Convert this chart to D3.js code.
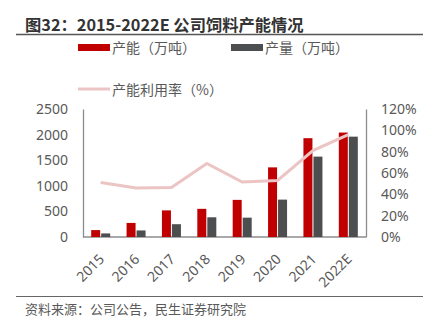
<!DOCTYPE html>
<html>
<head>
<meta charset="utf-8">
<script src="https://cdn.jsdelivr.net/npm/d3@7"></script>
<style>
  body { margin: 0; background: #fff; }
  svg { font-family: "Noto Sans CJK SC", "Noto Sans", sans-serif; }
</style>
</head>
<body>
<div id="vizcont"></div>
<script>
// data
var years = ["2015", "2016", "2017", "2018", "2019", "2020", "2021", "2022E"];
var capacity = [135, 275, 520, 550, 725, 1360, 1930, 2040];   // 产能（万吨）
var output = [70, 128, 250, 385, 378, 730, 1570, 1960];       // 产量（万吨）
var utilRate = [51, 46, 46.5, 69, 51.5, 53, 81, 96];           // 产能利用率（%）
var leftTicks = [0, 500, 1000, 1500, 2000, 2500];
var rightTicks = [0, 20, 40, 60, 80, 100, 120];

var W = 430, H = 323;
var margin = {top: 109, right: 64, bottom: 86, left: 83};
var width = W - margin.left - margin.right;
var height = H - margin.top - margin.bottom;

var svg = d3.select("#vizcont")
    .append("svg")
    .attr("width", W)
    .attr("height", H);

// title
svg.append("text")
    .attr("x", 25).attr("y", 31)
    .style("font-size", "16.3px")
    .style("font-weight", "bold")
    .attr("fill", "#333")
    .text("图32：2015-2022E 公司饲料产能情况");
svg.append("line")
    .attr("x1", 16).attr("x2", 423)
    .attr("y1", 34.5).attr("y2", 34.5)
    .attr("stroke", "#555").attr("stroke-width", 1.5);

// legend
var lg = svg.append("g").style("font-size", "14px");
lg.append("rect").attr("x", 78).attr("y", 44).attr("width", 32).attr("height", 7).attr("fill", "#C00000");
lg.append("text").attr("x", 112).attr("y", 52.5).attr("fill", "#595959").text("产能（万吨）");
lg.append("rect").attr("x", 231).attr("y", 44).attr("width", 32).attr("height", 7).attr("fill", "#4D4E50");
lg.append("text").attr("x", 265).attr("y", 52.5).attr("fill", "#595959").text("产量（万吨）");
lg.append("line").attr("x1", 78).attr("x2", 110).attr("y1", 89).attr("y2", 89)
    .attr("stroke", "#EDC4C4").attr("stroke-width", 3);
lg.append("text").attr("x", 112).attr("y", 94.5).attr("fill", "#595959").text("产能利用率（%）");

var g = svg.append("g")
    .attr("transform", "translate(" + margin.left + "," + margin.top + ")");

var x = d3.scaleBand().domain(years).range([0, width]);
var y = d3.scaleLinear().domain([0, 2500]).range([height, 0]);
var y2 = d3.scaleLinear().domain([0, 120]).range([height, 0]);

// axes
var axL = g.append("g")
    .call(d3.axisLeft(y).tickValues(leftTicks).tickSize(0).tickPadding(15)
        .tickFormat(d3.format("d")));
var axR = g.append("g")
    .attr("transform", "translate(" + width + ",0)")
    .call(d3.axisRight(y2).tickValues(rightTicks).tickSize(0).tickPadding(15)
        .tickFormat(function(d) { return d + "%"; }));
var axB = g.append("g")
    .attr("transform", "translate(0," + height + ")")
    .call(d3.axisBottom(x).tickSize(0));

[axL, axR, axB].forEach(function(a) {
    a.select(".domain").attr("stroke", "#8c8c8c").attr("stroke-width", 1.3);
    a.selectAll("text")
        .style("font-size", "14px")
        .style("font-family", "'Noto Sans', sans-serif")
        .attr("fill", "#595959");
});
axB.select(".domain").attr("d", "M0,0H" + width);
axB.selectAll("text")
    .attr("text-anchor", "end")
    .attr("x", 0).attr("y", 0)
    .attr("dy", "0.35em")
    .attr("transform", "translate(1,19.5) rotate(-45)");

var bw = 9;
g.selectAll(".cap")
    .data(years)
    .enter().append("rect")
    .attr("class", "cap")
    .attr("x", function(d) { return x(d) + x.bandwidth() / 2 - bw - 0.5; })
    .attr("y", function(d, i) { return y(capacity[i]); })
    .attr("width", bw)
    .attr("height", function(d, i) { return height - y(capacity[i]); })
    .attr("fill", "#C00000");

g.selectAll(".out")
    .data(years)
    .enter().append("rect")
    .attr("class", "out")
    .attr("x", function(d) { return x(d) + x.bandwidth() / 2 + 0.5; })
    .attr("y", function(d, i) { return y(output[i]); })
    .attr("width", bw)
    .attr("height", function(d, i) { return height - y(output[i]); })
    .attr("fill", "#4D4E50");

var line = d3.line()
    .x(function(d, i) { return x(years[i]) + x.bandwidth() / 2; })
    .y(function(d) { return y2(d); });

g.append("path")
    .datum(utilRate)
    .attr("d", line)
    .attr("fill", "none")
    .attr("stroke", "#EDC4C4")
    .attr("stroke-width", 3);

// footer
svg.append("line")
    .attr("x1", 16).attr("x2", 423)
    .attr("y1", 296.5).attr("y2", 296.5)
    .attr("stroke", "#666").attr("stroke-width", 1.2);
svg.append("text")
    .attr("x", 25).attr("y", 313.5)
    .style("font-size", "13px")
    .attr("fill", "#595959")
    .text("资料来源：公司公告，民生证券研究院");
</script>
</body>
</html>
